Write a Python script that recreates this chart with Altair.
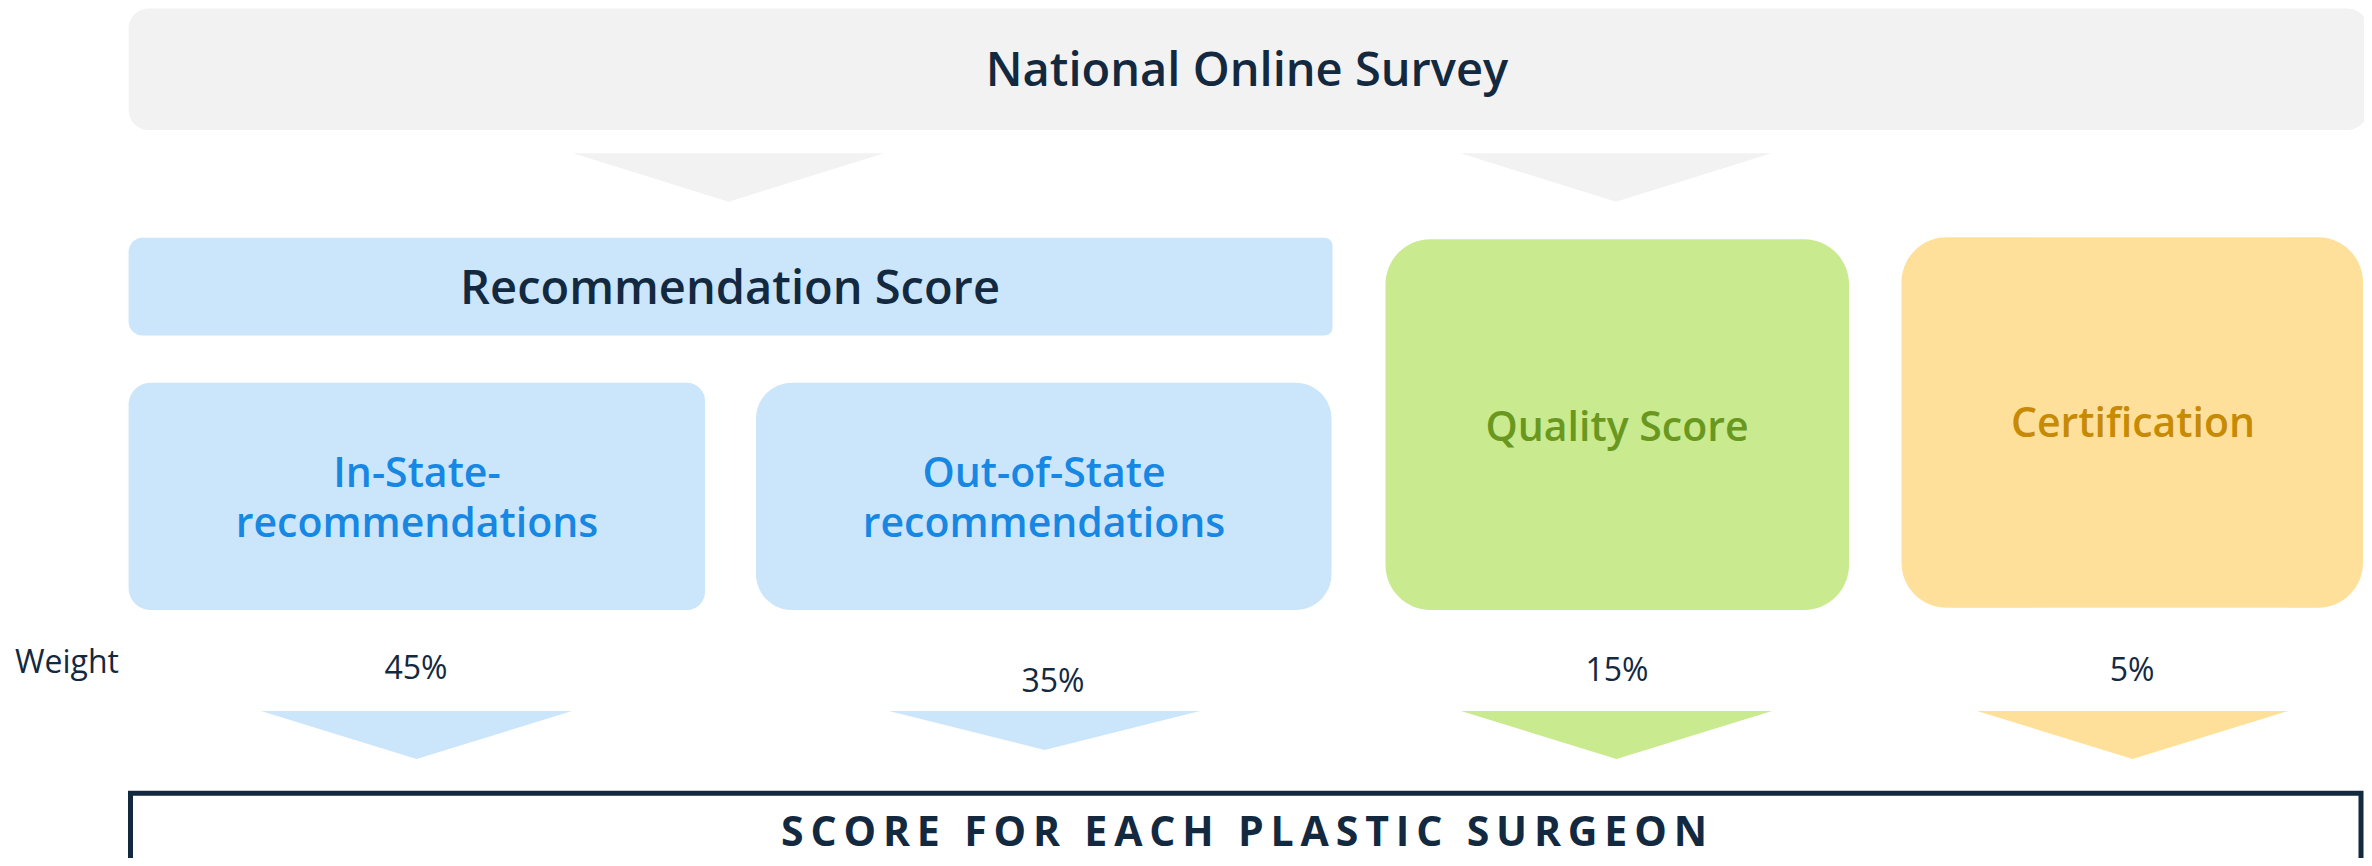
import altair as alt
import pandas as pd

# ---------------- content ----------------
survey_label = "National Online Survey"
group_label = "Recommendation Score"
component_names = ["In-State-recommendations", "Out-of-State recommendations",
                   "Quality Score", "Certification"]
component_lines = [["In-State-", "recommendations"],
                   ["Out-of-State", "recommendations"],
                   ["Quality Score"],
                   ["Certification"]]
weights = [45, 35, 15, 5]
weight_label = "Weight"
result_label = "SCORE FOR EACH PLASTIC SURGEON"

# ---------------- layout (page pixels) ----------------
W, H = 2356, 850
X0, Y0 = 8, 8
XS = alt.Scale(domain=[X0, X0 + W], nice=False, zero=False)
YS = alt.Scale(domain=[Y0, Y0 + H], nice=False, zero=False, reverse=True)

NAVY = "#13293f"
GRAY = "#f2f2f2"
BLUE_BG = "#cbe6fb"
GREEN_BG = "#c9ea8f"
ORANGE_BG = "#fee09a"
BLUE_TX = "#1787e4"
GREEN_TX = "#6a981f"
ORANGE_TX = "#c68a04"

comp_boxes = [  # x0, x1, y0, y1, fill, text colour, radii (tl,tr,bl,br)
    (128.6, 705.0, 382.7, 610.0, BLUE_BG, BLUE_TX, (22, 18, 22, 18)),
    (756.0, 1331.5, 382.7, 610.0, BLUE_BG, BLUE_TX, (36, 36, 36, 36)),
    (1385.5, 1849.0, 239.3, 610.0, GREEN_BG, GREEN_TX, (45, 45, 45, 45)),
    (1901.5, 2363.0, 237.3, 607.7, ORANGE_BG, ORANGE_TX, (45, 45, 45, 45)),
]
comp_text_pos = [(417, 487), (1044, 487), (1617, 441), (2133, 437)]
weight_text_pos = [(416, 679), (1053, 691.7), (1617, 680.7), (2132, 680.7)]
bottom_tri = [(416.5, 735.0, 24.0, BLUE_BG), (1044.5, 730.5, 19.5, BLUE_BG),
              (1616.5, 735.0, 24.0, GREEN_BG), (2132.5, 735.0, 24.0, ORANGE_BG)]
top_tri = [(728.6, 177.5, 24.2), (1616.0, 177.5, 24.2)]
TRI_W = 311.0


def enc_rect(ch):
    return ch.encode(
        x=alt.X("x0:Q", scale=XS, axis=None), x2="x1:Q",
        y=alt.Y("y0:Q", scale=YS, axis=None), y2="y1:Q",
    )


def rect(x0, x1, y0, y1, fill, radii, **kw):
    tl, tr, bl, br = radii
    df = pd.DataFrame([{"x0": x0, "x1": x1, "y0": y0, "y1": y1}])
    return enc_rect(alt.Chart(df).mark_rect(
        fill=fill, cornerRadiusTopLeft=tl, cornerRadiusTopRight=tr,
        cornerRadiusBottomLeft=bl, cornerRadiusBottomRight=br, **kw))


def texts(rows, size, weight, color, align="center", **kw):
    df = pd.DataFrame(rows)
    return alt.Chart(df).mark_text(
        font="Open Sans", fontSize=size, fontWeight=weight, color=color,
        align=align, baseline="alphabetic", **kw,
    ).encode(
        x=alt.X("x:Q", scale=XS, axis=None),
        y=alt.Y("y:Q", scale=YS, axis=None),
        text="text:N",
    )


def tri(cx, cy, half_h, color):
    k = half_h / (TRI_W / 2.0)
    path = f"M-1,{-k:.4f}L1,{-k:.4f}L0,{k:.4f}Z"
    df = pd.DataFrame([{"x": cx, "y": cy}])
    return alt.Chart(df).mark_point(
        shape=path, size=TRI_W ** 2, filled=True, fill=color, color=color,
        strokeWidth=0, opacity=1,
    ).encode(x=alt.X("x:Q", scale=XS, axis=None), y=alt.Y("y:Q", scale=YS, axis=None))


layers = []
# survey box
layers.append(rect(128.6, 2367.5, 8.5, 130.0, GRAY, (20, 20, 20, 20)))
for cx, cy, hh in top_tri:
    layers.append(tri(cx, cy, hh, GRAY))
# recommendation score box
layers.append(rect(128.6, 1332.5, 237.7, 335.5, BLUE_BG, (14, 8, 14, 8)))
# component boxes
for (x0, x1, y0, y1, fill, _, radii) in comp_boxes:
    layers.append(rect(x0, x1, y0, y1, fill, radii))
# bottom triangles
for cx, cy, hh, col in bottom_tri:
    layers.append(tri(cx, cy, hh, col))
# result box
layers.append(rect(130.5, 2361.0, 793.2, 872.0, "white", (0, 0, 0, 0),
                   stroke=NAVY, strokeWidth=5))

# texts
layers.append(texts([{"x": 1247, "y": 86, "text": survey_label}], 47, 600, NAVY))
layers.append(texts([{"x": 730, "y": 304, "text": group_label}], 47, 600, NAVY))
for i, lines in enumerate(component_lines):
    cx, y = comp_text_pos[i]
    rows = [{"x": cx, "y": y, "text": "\n".join(lines)}]
    layers.append(texts(rows, 41, 600, comp_boxes[i][5], lineBreak="\n", lineHeight=50))
layers.append(texts([{"x": 15, "y": 672.7, "text": weight_label}], 32, 400, NAVY, align="left"))
layers.append(texts([{"x": p[0], "y": p[1], "text": f"{w}%"}
                     for p, w in zip(weight_text_pos, weights)], 32, 400, NAVY))
spaced = "\u2006".join(list(result_label))
layers.append(texts([{"x": 1244, "y": 846, "text": spaced}], 41, 700, NAVY))

chart = alt.layer(*layers).properties(
    width=W, height=H, padding=0,
    autosize=alt.AutoSizeParams(type="none"),
).configure_view(stroke=None)

chart.save("out.html", embed_options={"renderer": "svg", "actions": False})
